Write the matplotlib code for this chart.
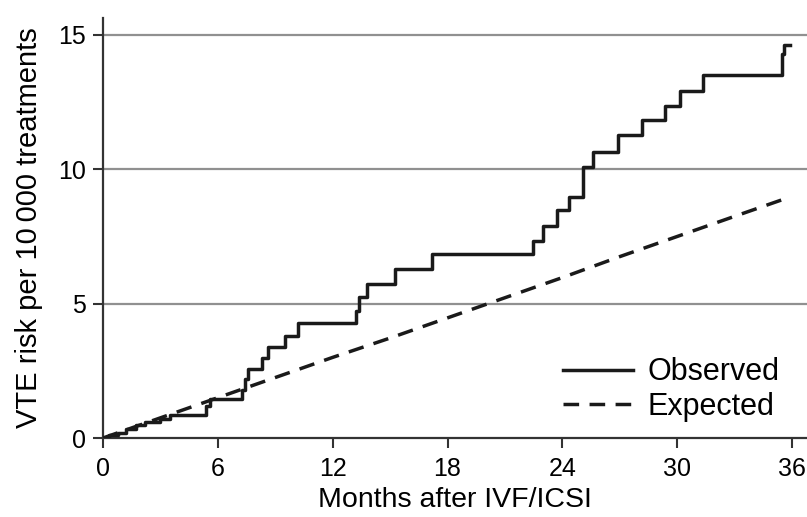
import numpy as np
import matplotlib
matplotlib.use("Agg")
import matplotlib.pyplot as plt

# observed cumulative risk (step function)
obs_months = [0, 0.3, 0.8, 1.2, 1.7, 2.2, 3.0, 3.5, 5.4, 5.6, 7.25, 7.4, 7.6,
              8.3, 8.6, 9.5, 10.2, 13.2, 13.4, 13.8, 15.26, 17.17, 22.45, 23.0,
              23.7, 24.36, 25.06, 25.62, 26.92, 28.15, 29.36, 30.15, 31.33,
              35.5, 35.6, 35.9]
obs_risk = [0, 0.1, 0.2, 0.35, 0.5, 0.6, 0.7, 0.85, 1.2, 1.45, 1.8, 2.2, 2.55,
            2.98, 3.39, 3.8, 4.27, 4.74, 5.26, 5.73, 6.29, 6.85, 7.34, 7.89,
            8.48, 8.98, 10.1, 10.65, 11.27, 11.82, 12.37, 12.93, 13.51,
            14.3, 14.63, 14.63]

# expected risk
exp_months = [0, 3, 6, 9, 12, 15, 18, 21, 24, 27, 30, 33, 35.9]
exp_risk = [0, 0.75, 1.5, 2.25, 3.0, 3.72, 4.47, 5.22, 5.97, 6.75, 7.5, 8.25, 8.97]

xticks = [0, 6, 12, 18, 24, 30, 36]
yticks = [0, 5, 10, 15]

plt.rcParams['font.family'] = ['Liberation Sans', 'DejaVu Sans']

fig = plt.figure(figsize=(8.07, 5.17), dpi=100)
ax = fig.add_axes([0.1276, 0.1528, 1 - 0.1276, 0.8124])

for y in yticks[1:]:
    ax.axhline(y, color='#909090', lw=1.6, zorder=1)

ax.step(obs_months, obs_risk, where='post', color='#1a1a1a', lw=2.5,
        label='Observed', zorder=3)
ax.plot(exp_months, exp_risk, color='#1a1a1a', lw=2.5, dashes=(4.5, 3),
        label='Expected', zorder=3)

ax.set_xlim(0, 36.78)
ax.set_ylim(0, 15.63)
ax.set_xticks(xticks)
ax.set_yticks(yticks)
ax.tick_params(axis='both', direction='out', length=7, width=1.5,
               color='#333333', labelsize=18)
ax.tick_params(axis='x', pad=7)
ax.tick_params(axis='y', pad=5)
for s in ['top', 'right']:
    ax.spines[s].set_visible(False)
for s in ['left', 'bottom']:
    ax.spines[s].set_linewidth(1.6)
    ax.spines[s].set_color('#333333')

ax.set_xlabel('Months after IVF/ICSI', fontsize=20.5, labelpad=4)
ax.set_ylabel('VTE risk per 10\u2009000 treatments', fontsize=21, labelpad=11)

ax.legend(loc='upper left', bbox_to_anchor=(0.6534, 0.192), frameon=False,
          fontsize=22, handlelength=2.3, handletextpad=0.46, labelspacing=0.14,
          borderpad=0, borderaxespad=0)

fig.savefig('out.png', dpi=100)
